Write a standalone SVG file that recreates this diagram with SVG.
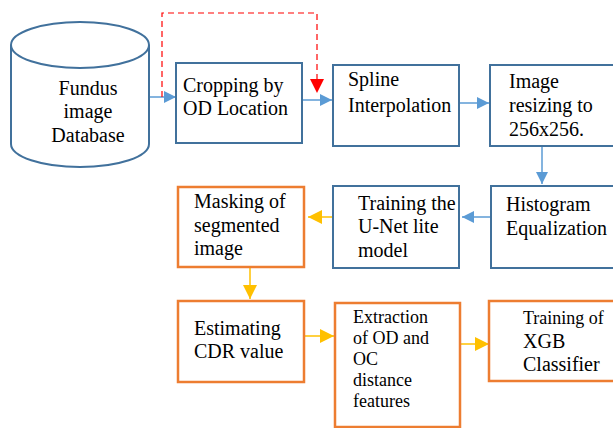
<svg xmlns="http://www.w3.org/2000/svg" width="613" height="428" viewBox="0 0 613 428">
<style>
.bb{fill:#fff;stroke:#41719C;stroke-width:2}
.ob{fill:#fff;stroke:#ED7D31;stroke-width:2.5}
text{font-family:"Liberation Serif","Times New Roman",serif;font-size:20px;fill:#000}
.s18{font-size:18px}
.ba{stroke:#5B9BD5;stroke-width:1.5;fill:none}
.ya{stroke:#FFC000;stroke-width:1.5;fill:none}
.ra{stroke:#FF0000;stroke-width:1.2;fill:none;stroke-dasharray:6,4}
</style>
<defs>
<marker id="mb" markerWidth="12" markerHeight="12" refX="12" refY="6" orient="auto" markerUnits="userSpaceOnUse"><path d="M0,0 L12,6 L0,12 Z" fill="#5B9BD5"/></marker>
<marker id="my" markerWidth="14" markerHeight="14" refX="14" refY="7" orient="auto" markerUnits="userSpaceOnUse"><path d="M0,0 L14,7 L0,14 Z" fill="#FFC000"/></marker>
<marker id="mr" markerWidth="14" markerHeight="14" refX="14" refY="7" orient="auto" markerUnits="userSpaceOnUse"><path d="M0,0 L14,7 L0,14 Z" fill="#FF0000"/></marker>
</defs>
<g id="connectors">
<line class="ba" x1="149" y1="97" x2="176" y2="97" marker-end="url(#mb)"/>
<polyline class="ra" points="162,97 162,13 317,13 317,93" marker-end="url(#mr)"/>
<line class="ba" x1="302" y1="100" x2="332" y2="100" marker-end="url(#mb)"/>
<line class="ba" x1="459" y1="103" x2="489" y2="103" marker-end="url(#mb)"/>
<line class="ba" x1="542" y1="146" x2="542" y2="184" marker-end="url(#mb)"/>
<line class="ba" x1="490" y1="217" x2="462" y2="217" marker-end="url(#mb)"/>
<line class="ya" x1="333" y1="217" x2="308" y2="217" marker-end="url(#my)"/>
<line class="ya" x1="250" y1="267" x2="250" y2="299" marker-end="url(#my)"/>
<line class="ya" x1="304" y1="336" x2="334" y2="336" marker-end="url(#my)"/>
<line class="ya" x1="460" y1="344" x2="489" y2="344" marker-end="url(#my)"/>
</g>
<g id="db">
<path class="bb" d="M11,45 L11,144 A69,23 0 0 0 149,144 L149,45"/>
<ellipse class="bb" cx="80" cy="45" rx="69" ry="23"/>
<text x="88" y="95" text-anchor="middle">Fundus</text>
<text x="88" y="118" text-anchor="middle">image</text>
<text x="88" y="142" text-anchor="middle">Database</text>
</g>
<g id="crop">
<rect class="bb" x="176" y="63" width="126" height="80"/>
<text x="183" y="92">Cropping by</text>
<text x="183" y="115">OD Location</text>
</g>
<g id="spline">
<rect class="bb" x="333" y="65" width="126" height="81"/>
<text x="348" y="86">Spline</text>
<text x="348" y="112">Interpolation</text>
</g>
<g id="resize">
<rect class="bb" x="490" y="65" width="130" height="81"/>
<text x="509" y="88">Image</text>
<text x="509" y="112">resizing to</text>
<text x="509" y="136">256x256.</text>
</g>
<g id="hist">
<rect class="bb" x="491" y="186" width="130" height="82"/>
<text x="506" y="211">Histogram</text>
<text x="506" y="235">Equalization</text>
</g>
<g id="unet">
<rect class="bb" x="333" y="186" width="126" height="82"/>
<text x="358" y="210">Training the</text>
<text x="358" y="233">U-Net lite</text>
<text x="358" y="257">model</text>
</g>
<g id="mask">
<rect class="ob" x="178" y="187" width="126" height="80"/>
<text x="194" y="208">Masking of</text>
<text x="194" y="232">segmented</text>
<text x="194" y="255">image</text>
</g>
<g id="cdr">
<rect class="ob" x="178" y="301" width="126" height="81"/>
<text x="194" y="335">Estimating</text>
<text x="194" y="358">CDR value</text>
</g>
<g id="extract">
<rect class="ob" x="335" y="303" width="125" height="124"/>
<text class="s18" x="353" y="323">Extraction</text>
<text class="s18" x="353" y="344">of OD and</text>
<text class="s18" x="353" y="365">OC</text>
<text class="s18" x="353" y="386">distance</text>
<text class="s18" x="353" y="407">features</text>
</g>
<g id="xgb">
<rect class="ob" x="489" y="301" width="130" height="80"/>
<text class="s18" x="523" y="324">Training of</text>
<text x="523" y="348">XGB</text>
<text x="523" y="371">Classifier</text>
</g>
</svg>
